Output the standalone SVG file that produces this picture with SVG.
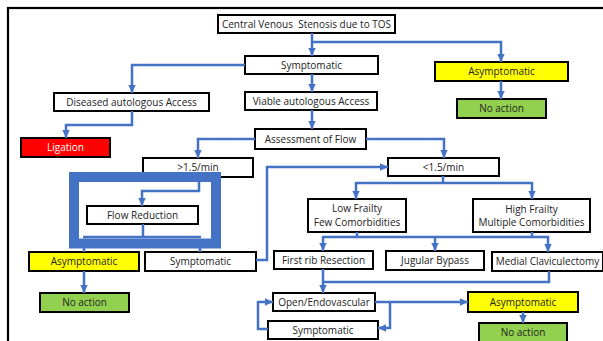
<svg xmlns="http://www.w3.org/2000/svg" width="603" height="341" viewBox="0 0 603 341">
  <defs>
    <marker id="arrow" markerUnits="userSpaceOnUse" markerWidth="9" markerHeight="9" viewBox="0 0 9 9" refX="8" refY="4.5" orient="auto">
      <path d="M0,0.8 L8,4.5 L0,8.2 Z" fill="#4472C4"/>
    </marker>
    <style>
      .box { fill: #ffffff; stroke: #000000; stroke-width: 2; }
      .yellow { fill: #FFFF00; }
      .green { fill: #92D050; }
      .red { fill: #FF0000; }
      .lbl { font-family: "Open Sans", "Liberation Sans", sans-serif; font-size: 10px; fill: #222222; text-anchor: middle; white-space: pre; }
      .white { fill: #ffffff; }
      .conn { fill: none; stroke: #4472C4; stroke-width: 2.5; }
      .arr { marker-end: url(#arrow); }
    </style>
  </defs>

  <rect width="603" height="341" fill="#ffffff"/>
  <!-- outer frame -->
  <rect x="8" y="8" width="700" height="400" fill="none" stroke="#000000" stroke-width="2.2"/>

  <!-- nodes -->
  <g id="n-central">
    <rect class="box" x="218" y="15" width="177" height="18"/>
    <text class="lbl" x="306.5" y="27.5" xml:space="preserve">Central Venous  Stenosis due to TOS</text>
  </g>
  <g id="n-symptomatic-top">
    <rect class="box" x="245" y="56" width="133" height="18"/>
    <text class="lbl" x="311.5" y="68.5">Symptomatic</text>
  </g>
  <g id="n-asymptomatic-top">
    <rect class="box yellow" x="435" y="62" width="133" height="19"/>
    <text class="lbl" x="501.5" y="75">Asymptomatic</text>
  </g>
  <g id="n-noaction-top">
    <rect class="box green" x="457" y="99" width="89" height="19"/>
    <text class="lbl" x="501.5" y="112">No action</text>
  </g>
  <g id="n-diseased">
    <rect class="box" x="54" y="93" width="155" height="18"/>
    <text class="lbl" x="131.5" y="105.5">Diseased autologous Access</text>
  </g>
  <g id="n-viable">
    <rect class="box" x="245" y="92" width="132" height="18"/>
    <text class="lbl" x="311" y="104.5">Viable autologous Access</text>
  </g>
  <g id="n-ligation">
    <rect class="box red" x="21" y="138" width="89" height="19"/>
    <text class="lbl white" x="65.5" y="151">Ligation</text>
  </g>
  <g id="n-assessment">
    <rect class="box" x="255" y="129" width="111" height="20"/>
    <text class="lbl" x="310.5" y="142.5">Assessment of Flow</text>
  </g>
  <g id="n-high-flow">
    <rect class="box" x="143" y="158" width="110" height="19"/>
    <text class="lbl" x="198" y="170.5">&gt;1.5/min</text>
  </g>
  <g id="n-low-flow">
    <rect class="box" x="388" y="158" width="111" height="18"/>
    <text class="lbl" x="443.5" y="171">&lt;1.5/min</text>
  </g>

  <!-- thick surround of the flow reduction step -->
  <g id="n-flow-frame">
    <rect x="74" y="177" width="142" height="66.5" fill="none" stroke="#4472C4" stroke-width="10"/>
  </g>
  <g id="n-flow-reduction">
    <rect class="box" x="87" y="206" width="111" height="18"/>
    <text class="lbl" x="142.5" y="218.5">Flow Reduction</text>
  </g>

  <g id="n-asymptomatic-left">
    <rect class="box yellow" x="29" y="252" width="110" height="19"/>
    <text class="lbl" x="84" y="265">Asymptomatic</text>
  </g>
  <g id="n-symptomatic-left">
    <rect class="box" x="145" y="252" width="111" height="19"/>
    <text class="lbl" x="200.5" y="265">Symptomatic</text>
  </g>
  <g id="n-noaction-left">
    <rect class="box green" x="40" y="293" width="89" height="19"/>
    <text class="lbl" x="84.5" y="306">No action</text>
  </g>

  <g id="n-low-frailty">
    <rect class="box" x="308" y="199" width="98" height="33"/>
    <text class="lbl" x="357" y="212">Low Frailty</text>
    <text class="lbl" x="357" y="226">Few Comorbidities</text>
  </g>
  <g id="n-high-frailty">
    <rect class="box" x="473" y="199" width="117" height="33"/>
    <text class="lbl" x="531.5" y="212.5">High Frailty</text>
    <text class="lbl" x="531.5" y="226">Multiple Comorbidities</text>
  </g>
  <g id="n-first-rib">
    <rect class="box" x="274" y="251" width="99" height="18"/>
    <text class="lbl" x="323.5" y="263.5">First rib Resection</text>
  </g>
  <g id="n-jugular">
    <rect class="box" x="386" y="251" width="98" height="19"/>
    <text class="lbl" x="435" y="264">Jugular Bypass</text>
  </g>
  <g id="n-claviculectomy">
    <rect class="box" x="492" y="252" width="111" height="19"/>
    <text class="lbl" x="547.5" y="265">Medial Claviculectomy</text>
  </g>
  <g id="n-open-endo">
    <rect class="box" x="273" y="293" width="102" height="18"/>
    <text class="lbl" x="324" y="305.5">Open/Endovascular</text>
  </g>
  <g id="n-symptomatic-bottom">
    <rect class="box" x="268" y="321" width="110" height="18"/>
    <text class="lbl" x="323" y="333.5">Symptomatic</text>
  </g>
  <g id="n-asymptomatic-bottom">
    <rect class="box yellow" x="468" y="292" width="110" height="20"/>
    <text class="lbl" x="523" y="305.5">Asymptomatic</text>
  </g>
  <g id="n-noaction-bottom">
    <rect class="box green" x="479" y="323" width="88" height="22"/>
    <text class="lbl" x="523" y="336">No action</text>
  </g>

  <!-- connectors -->
  <g id="connectors">
    <path class="conn arr" d="M312,33 V56"/>
    <path class="conn arr" d="M312,42 H501 V62"/>
    <path class="conn arr" d="M245,65 H132 V93"/>
    <path class="conn arr" d="M312,74 V92"/>
    <path class="conn arr" d="M312,110 V129"/>
    <path class="conn arr" d="M132,111 V125 H66 V138"/>
    <path class="conn arr" d="M501,81 V99"/>
    <path class="conn arr" d="M255,139 H198 V158"/>
    <path class="conn arr" d="M366,139 H444 V158"/>
    <path class="conn arr" d="M199,182 V191 H142 V206"/>
    <path class="conn" d="M143,224 V237"/>
    <path class="conn" d="M83,237 H201" stroke-width="1.5"/>
    <path class="conn" d="M84,248 V252" stroke-width="1.5"/>
    <path class="conn" d="M200,248 V252" stroke-width="1.5"/>
    <path class="conn arr" d="M84,271 V293"/>
    <path class="conn arr" d="M256,260 H267 V167 H388"/>
    <path class="conn" d="M443,176 V183"/>
    <path class="conn arr" d="M443,183 H356 V199"/>
    <path class="conn arr" d="M443,183 H532 V199"/>
    <path class="conn" d="M357,232 V237"/>
    <path class="conn" d="M532,232 V237"/>
    <path class="conn arr" d="M357,237 H323 V251"/>
    <path class="conn arr" d="M357,237 H548 V252"/>
    <path class="conn arr" d="M435,237 V251"/>
    <path class="conn" d="M549,271 V282 H323"/>
    <path class="conn arr" d="M323,269 V293"/>
    <path class="conn arr" d="M375,302 H468"/>
    <path class="conn arr" d="M390,302 V328 H378"/>
    <path class="conn arr" d="M268,329 H258 V302 H273"/>
    <path class="conn arr" d="M523,312 V323"/>
  </g>
</svg>
